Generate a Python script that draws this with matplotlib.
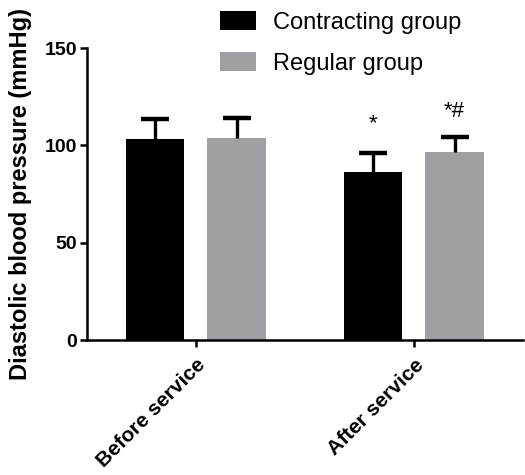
import numpy as np
import matplotlib
matplotlib.use("Agg")
import matplotlib.pyplot as plt

plt.rcParams['font.family'] = ['Liberation Sans', 'DejaVu Sans']

# mean diastolic pressure and SD per group
periods = ["Before service", "After service"]
contracting_mean = [103.1, 86.4]
contracting_sd = [10.3, 9.8]
regular_mean = [103.9, 96.7]
regular_sd = [10.0, 7.7]
marks_contracting = ["", "*"]
marks_regular = ["", "*#"]

black = "#000000"
grey = "#a0a0a4"

fig = plt.figure(figsize=(5.25, 4.75), dpi=100)
ax = fig.add_axes([0.1657, 0.2842, 0.83, 0.6147])

x = np.arange(len(periods))
off = 0.1875
w = 0.27


def upper_err(xs, means, sds):
    # stem from bar top plus a single cap, no lower whisker
    tops = np.array(means) + np.array(sds)
    ax.vlines(xs, means, tops, color=black, lw=2.4, zorder=3)
    ax.plot(xs, tops, ls="none", marker="_", ms=20, mew=3.2, color=black,
            zorder=3)


ax.bar(x - off, contracting_mean, w, color=black, label="Contracting group")
ax.bar(x + off, regular_mean, w, color=grey, label="Regular group")
upper_err(x - off, contracting_mean, contracting_sd)
upper_err(x + off, regular_mean, regular_sd)

for i in range(len(periods)):
    if marks_contracting[i]:
        ax.text(x[i] - off, contracting_mean[i] + contracting_sd[i] + 12,
                marks_contracting[i], ha="center", va="baseline", fontsize=16)
    if marks_regular[i]:
        ax.text(x[i] + off, regular_mean[i] + regular_sd[i] + 10,
                marks_regular[i], ha="center", va="baseline", fontsize=16)

ax.set_xlim(-0.5, 1.5)
ax.set_ylim(0, 150)
ax.set_yticks([0, 50, 100, 150])
ax.set_xticks(x)
ax.set_xticklabels(periods, rotation=45, ha="right", rotation_mode="anchor",
                   fontsize=15, fontweight="bold")
for lab in ax.get_yticklabels():
    lab.set_fontweight("bold")
    lab.set_fontsize(14)

ax.spines["top"].set_visible(False)
ax.spines["right"].set_visible(False)
ax.spines["left"].set_linewidth(1.8)
ax.spines["bottom"].set_linewidth(1.8)
ax.tick_params(axis="both", width=1.8, length=5, pad=2)
ax.tick_params(axis="x", pad=6)

ax.set_ylabel("Diastolic blood pressure (mmHg)", fontsize=17,
              fontweight="bold", labelpad=9)

fig.legend(loc="upper left", bbox_to_anchor=(0.419, 0.977), frameon=False,
           fontsize=17, handlelength=1.53, handleheight=0.85, handletextpad=0.7,
           labelspacing=0.78, borderpad=0, borderaxespad=0)

fig.savefig("out.png", dpi=100)
